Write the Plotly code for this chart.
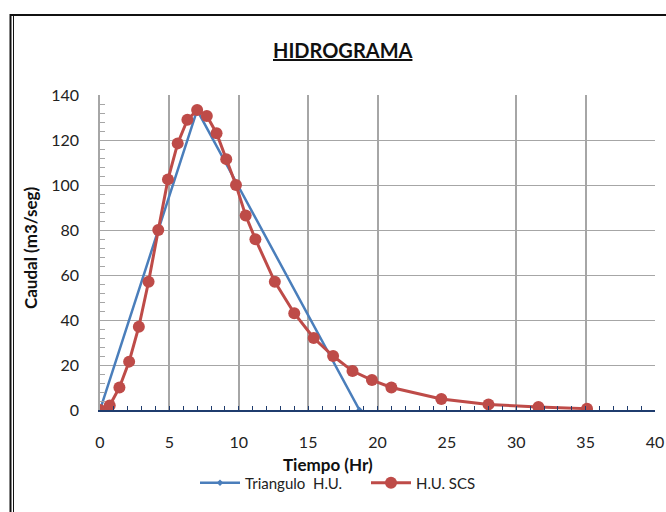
import plotly.graph_objects as go

# Data
tri_x = [0, 7.0, 18.7]
tri_y = [0, 133.3, 0]

scs_x = [0, 0.7, 1.4, 2.1, 2.8, 3.5, 4.2, 4.9, 5.6, 6.3, 7.0, 7.7, 8.4, 9.1, 9.8,
         10.5, 11.2, 12.6, 14.0, 15.4, 16.8, 18.2, 19.6, 21.0, 24.6, 28.0, 31.6, 35.1]
scs_y = [0, 2, 10, 21.5, 37, 57, 80, 102.5, 118.5, 129, 133.3, 130.7, 123, 111.5, 100,
         86.4, 75.9, 57, 43, 32, 24, 17.3, 13.3, 10, 4.9, 2.5, 1.3, 0.6]

x_ticks = [0, 5, 10, 15, 20, 25, 30, 35, 40]
x_grid = [5, 10, 15, 20, 30, 35, 40]

FONT = "Lato"
W, H = 666, 512
ML, MR, MT, MB = 100, 11, 95, 102
PW = W - ML - MR
PH = H - MT - MB

def px(xp):
    return (xp - ML) / PW

def py(yp):
    return (H - MB - yp) / PH

fig = go.Figure()
fig.add_trace(go.Scatter(
    x=tri_x, y=tri_y, mode="lines+markers", name="Triangulo\u00a0 H.U.",
    line=dict(color="#4A7EBB", width=2.5),
    marker=dict(symbol="diamond", size=5, color="#4A7EBB"),
))
fig.add_trace(go.Scatter(
    x=scs_x, y=scs_y, mode="lines+markers", name="H.U. SCS",
    line=dict(color="#BE4B48", width=3),
    marker=dict(symbol="circle", size=12, color="#BE4B48"),
))
# invisible trace to hold the grid axis
fig.add_trace(go.Scatter(x=[0, 40], y=[0, 0], xaxis="x2", mode="lines",
                         line=dict(width=0), showlegend=False, hoverinfo="skip"))

fig.update_layout(
    width=W, height=H,
    margin=dict(l=ML, r=MR, t=MT, b=MB, autoexpand=False),
    paper_bgcolor="white", plot_bgcolor="white",
    font=dict(family=FONT, size=14, color="#222222"),
    showlegend=True,
    legend=dict(orientation="h", x=px(195), y=py(483), xanchor="left", yanchor="middle",
                font=dict(size=15, family=FONT, color="#222222"),
                entrywidth=116, itemwidth=40, bgcolor="rgba(0,0,0,0)"),
    xaxis=dict(range=[0, 40], tickvals=x_ticks, showgrid=False, zeroline=False,
               showline=True, linecolor="#1F3C6E", linewidth=1.5, automargin=False,
               ticks="inside", ticklen=4, tickcolor="#1F3C6E", tickwidth=1,
               minor=dict(dtick=1, ticks="inside", ticklen=4, tickcolor="#1F3C6E", tickwidth=1),
               ticklabelstandoff=17, tickfont=dict(size=16)),
    xaxis2=dict(range=[0, 40], overlaying="x", tickvals=x_grid, showgrid=True,
                gridcolor="#A6A6A6", gridwidth=1.5, showticklabels=False, ticks="",
                zeroline=False, showline=False, automargin=False),
    yaxis=dict(range=[0, 140], dtick=20, showgrid=True, gridcolor="#A6A6A6", gridwidth=1.2,
               zeroline=False, showline=True, linecolor="#A6A6A6", linewidth=1.5,
               automargin=False,
               ticks="", minor=dict(dtick=4, ticks="inside", ticklen=5, tickcolor="#A6A6A6",
                                    showgrid=False),
               ticklabelstandoff=16, tickfont=dict(size=16)),
    annotations=[
        dict(text="<u><b>HIDROGRAMA</b></u>", x=px(343), y=py(50), xref="paper", yref="paper",
             showarrow=False, font=dict(size=20, family=FONT, color="#111111"),
             xanchor="center", yanchor="middle"),
        dict(text="<b>Tiempo (Hr)</b>", x=px(328), y=py(464), xref="paper", yref="paper",
             showarrow=False, font=dict(size=17, family=FONT, color="#111111"),
             xanchor="center", yanchor="middle"),
        dict(text="<b>Caudal (m3/seg)</b>", x=px(30), y=py(248), xref="paper", yref="paper",
             showarrow=False, textangle=-90, font=dict(size=17, family=FONT, color="#111111"),
             xanchor="center", yanchor="middle"),
    ],
    shapes=[
        dict(type="rect", xref="paper", yref="paper", x0=px(10.5), x1=px(700),
             y0=py(15), y1=py(560), line=dict(color="#111111", width=2), layer="above"),
        dict(type="line", xref="paper", yref="paper", x0=px(13.5), x1=px(13.5),
             y0=py(16), y1=py(560), line=dict(color="#111111", width=1), layer="above"),
    ],
)

fig.write_html("out.html", config={"displayModeBar": False},
               post_script="document.body.style.margin='0';document.body.style.overflow='hidden';")
